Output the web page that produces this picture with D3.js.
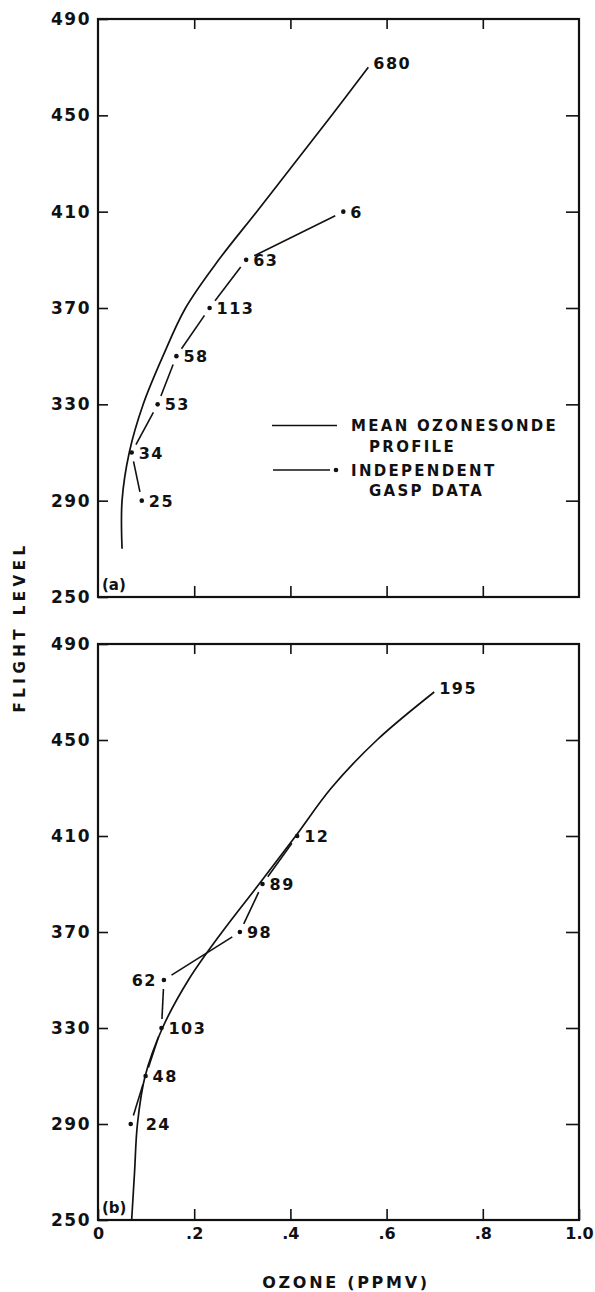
<!DOCTYPE html>
<html>
<head>
<meta charset="utf-8">
<script src="https://cdn.jsdelivr.net/npm/d3@7/dist/d3.min.js"></script>
<style>
body { margin: 0; background: #fff; }
svg text { font-family: "DejaVu Sans", sans-serif; font-weight: bold; fill: #111; }
</style>
</head>
<body>
<div id="chart"></div>
<script>
// Ozone vs flight level, two panels
var w = 595;
var h = 1292;

// panel (a): mean ozonesonde profile
var meanLevelsA = [270, 290, 310, 330, 350, 370, 390, 410, 430, 450, 470];
var meanOzoneA  = [0.050, 0.050, 0.065, 0.094, 0.135, 0.182, 0.251, 0.330, 0.408, 0.486, 0.562];
var meanCountA  = 680;
// panel (a): independent GASP data
var gaspLevelsA = [290, 310, 330, 350, 370, 390, 410];
var gaspOzoneA  = [0.091, 0.070, 0.124, 0.163, 0.232, 0.308, 0.510];
var gaspCountA  = [25, 34, 53, 58, 113, 63, 6];

// panel (b)
var meanLevelsB = [250, 270, 290, 310, 330, 350, 370, 390, 410, 430, 450, 470];
var meanOzoneB  = [0.070, 0.076, 0.082, 0.098, 0.134, 0.188, 0.258, 0.335, 0.411, 0.485, 0.580, 0.699];
var meanCountB  = 195;
var gaspLevelsB = [290, 310, 330, 350, 370, 390, 410];
var gaspOzoneB  = [0.068, 0.099, 0.132, 0.137, 0.295, 0.342, 0.414];
var gaspCountB  = [24, 48, 103, 62, 98, 89, 12];

var levelTicks = [250, 290, 330, 370, 410, 450, 490];
var ozoneTicks = [0, 0.2, 0.4, 0.6, 0.8, 1.0];
var ozoneTickLabels = ["0", ".2", ".4", ".6", ".8", "1.0"];

var ink = '#111';
var gap = 9; // GASP segments stop short of the dots

var svg = d3.select('#chart')
    .append('svg')
    .attr('width', w)
    .attr('height', h);

var xScale = d3.scaleLinear()
    .domain([0, 1])
    .range([98, 579]);

var meanLine = d3.line()
    .x(d => xScale(d.oz))
    .y(d => d.y)
    .curve(d3.curveCatmullRom.alpha(0.5));

var panels = [
    {id: 'a', top: 19, bottom: 597, xLabels: false,
     mean: meanLevelsA.map((fl, i) => ({fl: fl, oz: meanOzoneA[i]})), meanN: meanCountA,
     gasp: gaspLevelsA.map((fl, i) => ({fl: fl, oz: gaspOzoneA[i], n: gaspCountA[i]}))},
    {id: 'b', top: 644, bottom: 1220, xLabels: true,
     mean: meanLevelsB.map((fl, i) => ({fl: fl, oz: meanOzoneB[i]})), meanN: meanCountB,
     gasp: gaspLevelsB.map((fl, i) => ({fl: fl, oz: gaspOzoneB[i], n: gaspCountB[i]}))}
];

// label nudges for crowded points
var labelNudge = {62: {dx: -7, anchor: 'end'}, 24: {dx: 15, anchor: 'start'}};

function styleAxis(sel, size, spacing) {
    sel.select('.domain').remove();
    sel.selectAll('.tick line').attr('stroke', ink).attr('stroke-width', 1.6);
    sel.selectAll('.tick text')
        .attr('fill', ink)
        .style('font-size', size + 'px')
        .style('letter-spacing', spacing + 'px');
}

function drawPanel(p) {
    var yScale = d3.scaleLinear()
        .domain([250, 490])
        .range([p.bottom, p.top]);
    var g = svg.append('g').attr('id', 'panel-' + p.id);

    // axes, ticks pointing inward
    g.append('g')
        .attr('transform', `translate(${xScale(0)}, 0)`)
        .call(d3.axisLeft(yScale).tickValues(levelTicks).tickSizeInner(-10).tickSizeOuter(0).tickPadding(7).tickFormat(d3.format('d')))
        .call(s => styleAxis(s, 17, 1.5));
    g.append('g')
        .attr('transform', `translate(${xScale(1)}, 0)`)
        .call(d3.axisRight(yScale).tickValues(levelTicks.slice(1, -1)).tickSizeInner(-13).tickSizeOuter(0).tickFormat(''))
        .call(s => styleAxis(s, 17, 0));
    g.append('g')
        .attr('transform', `translate(0, ${yScale(490)})`)
        .call(d3.axisTop(xScale).tickValues(ozoneTicks.slice(1, -1)).tickSizeInner(-10).tickSizeOuter(0).tickFormat(''))
        .call(s => styleAxis(s, 17, 0));
    g.append('g')
        .attr('transform', `translate(0, ${yScale(250)})`)
        .call(d3.axisBottom(xScale)
            .tickValues(p.xLabels ? ozoneTicks : ozoneTicks.slice(1, -1))
            .tickSizeInner(-11).tickSizeOuter(0).tickPadding(8)
            .tickFormat((d) => p.xLabels ? ozoneTickLabels[ozoneTicks.indexOf(d)] : ''))
        .call(s => styleAxis(s, 16, 0));

    // frame
    g.append('rect')
        .attr('x', xScale(0))
        .attr('y', yScale(490))
        .attr('width', xScale(1) - xScale(0))
        .attr('height', yScale(250) - yScale(490))
        .attr('fill', 'none')
        .attr('stroke', ink)
        .attr('stroke-width', 2.2);

    // mean ozonesonde profile
    var mean = p.mean.map(d => ({oz: d.oz, y: yScale(d.fl)}));
    g.append('path')
        .datum(mean)
        .attr('class', 'mean')
        .attr('d', meanLine)
        .attr('fill', 'none')
        .attr('stroke', ink)
        .attr('stroke-width', 1.7);
    var last = mean[mean.length - 1];
    g.append('text')
        .attr('x', xScale(last.oz) + 5)
        .attr('y', last.y + 2)
        .style('font-size', '16px')
        .style('letter-spacing', '1.5px')
        .text(p.meanN);

    // GASP data: broken segments between dots
    var pts = p.gasp.map(d => ({x: xScale(d.oz), y: yScale(d.fl), n: d.n}));
    for (var i = 0; i < pts.length - 1; i++) {
        var a = pts[i], b = pts[i + 1];
        var len = Math.hypot(b.x - a.x, b.y - a.y);
        var ux = (b.x - a.x) / len, uy = (b.y - a.y) / len;
        g.append('line')
            .attr('class', 'gasp')
            .attr('x1', a.x + ux * gap)
            .attr('y1', a.y + uy * gap)
            .attr('x2', b.x - ux * gap)
            .attr('y2', b.y - uy * gap)
            .attr('stroke', ink)
            .attr('stroke-width', 1.6);
    }
    g.selectAll('.dot')
        .data(pts)
        .enter()
        .append('circle')
        .attr('class', 'dot')
        .attr('cx', d => d.x)
        .attr('cy', d => d.y)
        .attr('r', 2.3)
        .attr('fill', ink);
    g.selectAll('.count')
        .data(pts)
        .enter()
        .append('text')
        .attr('class', 'count')
        .attr('x', d => d.x + (labelNudge[d.n] ? labelNudge[d.n].dx : 7))
        .attr('y', d => d.y + 6)
        .attr('text-anchor', d => labelNudge[d.n] ? labelNudge[d.n].anchor : 'start')
        .style('font-size', '16px')
        .style('letter-spacing', '1.5px')
        .text(d => d.n);

    g.append('text')
        .attr('x', xScale(0) + 4)
        .attr('y', yScale(250) - 7)
        .style('font-size', '15px')
        .text('(' + p.id + ')');
    return g;
}

var gA = drawPanel(panels[0]);
drawPanel(panels[1]);

// legend, panel (a)
var legend = gA.append('g').attr('id', 'legend');
legend.append('line')
    .attr('x1', 272).attr('x2', 337).attr('y1', 425.5).attr('y2', 425.5)
    .attr('stroke', ink).attr('stroke-width', 1.6);
legend.append('line')
    .attr('x1', 273).attr('x2', 330).attr('y1', 470).attr('y2', 470)
    .attr('stroke', ink).attr('stroke-width', 1.6);
legend.append('circle')
    .attr('cx', 336).attr('cy', 470).attr('r', 2.3).attr('fill', ink);
var legendText = [
    {t: 'MEAN OZONESONDE', x: 351, y: 431},
    {t: 'PROFILE', x: 369, y: 452},
    {t: 'INDEPENDENT', x: 351, y: 476},
    {t: 'GASP DATA', x: 369, y: 496}
];
legend.selectAll('text')
    .data(legendText)
    .enter()
    .append('text')
    .attr('x', d => d.x)
    .attr('y', d => d.y)
    .style('font-size', '15px')
    .style('letter-spacing', '2.3px')
    .text(d => d.t);

// axis titles
svg.append('text')
    .attr('x', 346)
    .attr('y', 1288)
    .attr('text-anchor', 'middle')
    .style('font-size', '16px')
    .style('letter-spacing', '2.7px')
    .text('OZONE (PPMV)');
svg.append('text')
    .attr('transform', 'translate(25, 627) rotate(-90)')
    .attr('text-anchor', 'middle')
    .style('font-size', '15px')
    .style('letter-spacing', '4.5px')
    .text('FLIGHT LEVEL');
</script>
</body>
</html>
